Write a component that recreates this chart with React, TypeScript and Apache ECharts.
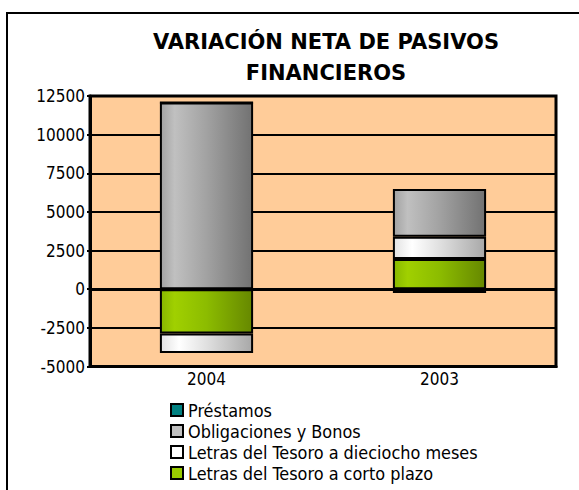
import React, { useEffect, useRef } from "react";
import * as echarts from "echarts";

const categories = ["2004", "2003"];
const cortoPlazo = [-2870, 1960];
const dieciocho = [-1260, 1430];
const obligaciones = [12075, 3090];
const prestamos = [0, -250];
const yTicks = { min: -5000, max: 12500, interval: 2500 };

const FONT = "DejaVu Sans";
const FONT_C = "'DejaVu Sans Condensed', 'DejaVu Sans'";

function grad(stops: [number, string][]) {
  return new echarts.graphic.LinearGradient(
    0, 0, 1, 0,
    stops.map(([offset, color]) => ({ offset, color }))
  );
}

export default function App() {
  const ref = useRef<HTMLDivElement>(null);
  useEffect(() => {
    if (!ref.current) return;
    const chart = echarts.init(ref.current, null, { renderer: "svg" });
    const barBase = {
      type: "bar" as const,
      stack: "total",
      barWidth: "40%",
      itemStyle: { borderColor: "#000", borderWidth: 2 },
    };
    chart.setOption({
      animation: false,
      backgroundColor: "#fff",
      title: {
        text: "VARIACIÓN NETA DE PASIVOS\nFINANCIEROS",
        left: 326,
        top: 26,
        textAlign: "center",
        padding: 0,
        textStyle: {
          fontFamily: FONT,
          fontWeight: "bold",
          fontSize: 21,
          lineHeight: 31,
          color: "#000",
        },
      },
      graphic: [
        { type: "line", shape: { x1: 6, y1: 13, x2: 579, y2: 13 }, style: { stroke: "#000", lineWidth: 2 } },
        { type: "line", shape: { x1: 7, y1: 12, x2: 7, y2: 490 }, style: { stroke: "#000", lineWidth: 2 } },
      ],
      grid: {
        left: 90,
        top: 96,
        right: 23,
        bottom: 123.5,
        show: true,
        backgroundColor: "#FFCC99",
        borderColor: "#000",
        borderWidth: 3,
      },
      legend: {
        orient: "vertical",
        left: 170,
        top: 399.5,
        padding: 0,
        itemWidth: 12,
        itemHeight: 12,
        itemGap: 0,
        icon: "rect",
        selectedMode: false,
        textStyle: { fontFamily: FONT_C, fontSize: 17.9, color: "#000", lineHeight: 21 },
        data: [
          { name: "Préstamos", itemStyle: { color: "#008080", borderColor: "#000", borderWidth: 2 } },
          { name: "Obligaciones y Bonos", itemStyle: { color: "#C0C0C0", borderColor: "#000", borderWidth: 2 } },
          { name: "Letras del Tesoro a dieciocho meses", itemStyle: { color: "#FFFFFF", borderColor: "#000", borderWidth: 2 } },
          { name: "Letras del Tesoro a corto plazo", itemStyle: { color: "#99CC00", borderColor: "#000", borderWidth: 2 } },
        ],
      },
      xAxis: {
        type: "category",
        data: categories,
        axisLine: { onZero: false, lineStyle: { color: "#000", width: 3 } },
        axisTick: { show: false },
        axisLabel: { fontFamily: FONT_C, fontSize: 17, color: "#000", margin: 4 },
      },
      yAxis: {
        type: "value",
        min: yTicks.min,
        max: yTicks.max,
        interval: yTicks.interval,
        axisLine: { show: true, lineStyle: { color: "#000", width: 3 } },
        axisTick: { show: true, length: 3, lineStyle: { color: "#000", width: 2 } },
        axisLabel: {
          fontFamily: FONT_C,
          fontSize: 17,
          color: "#000",
          margin: 5,
          formatter: (v: number) => String(v),
        },
        splitLine: { show: true, lineStyle: { color: "#000", width: 2 } },
      },
      series: [
        {
          ...barBase,
          name: "Letras del Tesoro a corto plazo",
          data: cortoPlazo,
          itemStyle: {
            ...barBase.itemStyle,
            color: grad([[0, "#88b800"], [0.15, "#a0d000"], [0.5, "#8cbc00"], [1, "#668800"]]),
          },
          markLine: {
            symbol: "none",
            silent: true,
            label: { show: false },
            lineStyle: { color: "#000", width: 3, type: "solid" },
            data: [{ yAxis: 0 }],
          },
        },
        {
          ...barBase,
          name: "Letras del Tesoro a dieciocho meses",
          data: dieciocho,
          itemStyle: {
            ...barBase.itemStyle,
            color: grad([[0, "#e2e2e2"], [0.2, "#ffffff"], [0.5, "#e0e0e0"], [1, "#a8a8a8"]]),
          },
        },
        {
          ...barBase,
          name: "Obligaciones y Bonos",
          data: obligaciones,
          itemStyle: {
            ...barBase.itemStyle,
            color: grad([[0, "#a2a2a2"], [0.15, "#c0c0c0"], [0.5, "#a2a2a2"], [1, "#727272"]]),
          },
        },
        {
          ...barBase,
          name: "Préstamos",
          data: prestamos,
          itemStyle: {
            ...barBase.itemStyle,
            color: "#008080",
          },
        },
      ],
    });
    return () => chart.dispose();
  }, []);
  return (
    <div
      ref={ref}
      style={{ position: "absolute", left: 0, top: 0, width: 579, height: 490 }}
    />
  );
}
